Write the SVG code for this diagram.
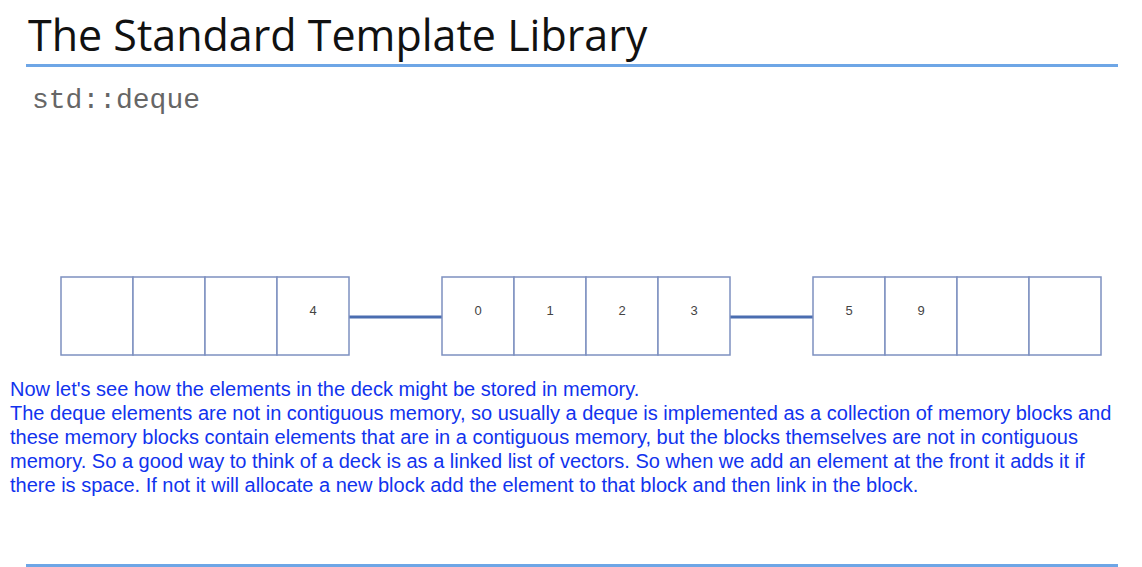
<svg xmlns="http://www.w3.org/2000/svg" width="1142" height="567" viewBox="0 0 1142 567">
  <style>
    .title { font-family: "Open Sans", "Noto Sans", sans-serif; font-size: 43px; fill: #111; }
    .code { font-family: "Liberation Mono", monospace; font-size: 28px; fill: #666; }
    .cell { fill: #fff; stroke: #7d90c0; stroke-width: 1.5; }
    .num { font-family: "Liberation Sans", Arial, sans-serif; font-size: 13px; fill: #444; text-anchor: middle; }
    .link { stroke: #4a6db0; stroke-width: 3; }
    .rule { stroke: #6ea6e6; stroke-width: 3; }
    .body { font-family: "Liberation Sans", Arial, sans-serif; font-size: 20px; fill: #1133ee; }
  </style>

  <text class="title" x="28" y="51">The Standard Template Library</text>
  <line class="rule" x1="26" y1="65.5" x2="1118" y2="65.5"/>
  <text class="code" x="32" y="108">std::deque</text>

  <!-- links between memory blocks -->
  <g id="connectors">
    <line class="link" x1="349" y1="317" x2="442" y2="317"/>
    <line class="link" x1="730" y1="317" x2="813" y2="317"/>
  </g>

  <!-- block A: front block, last slot holds 4 -->
  <g id="block-a">
    <rect class="cell" x="61" y="277" width="72" height="78"/>
    <rect class="cell" x="133" y="277" width="72" height="78"/>
    <rect class="cell" x="205" y="277" width="72" height="78"/>
    <rect class="cell" x="277" y="277" width="72" height="78"/>
    <text class="num" x="313" y="315">4</text>
  </g>

  <!-- block B: 0 1 2 3 -->
  <g id="block-b">
    <rect class="cell" x="442" y="277" width="72" height="78"/>
    <rect class="cell" x="514" y="277" width="72" height="78"/>
    <rect class="cell" x="586" y="277" width="72" height="78"/>
    <rect class="cell" x="658" y="277" width="72" height="78"/>
    <text class="num" x="478" y="315">0</text>
    <text class="num" x="550" y="315">1</text>
    <text class="num" x="622" y="315">2</text>
    <text class="num" x="694" y="315">3</text>
  </g>

  <!-- block C: back block, 5 9 -->
  <g id="block-c">
    <rect class="cell" x="813" y="277" width="72" height="78"/>
    <rect class="cell" x="885" y="277" width="72" height="78"/>
    <rect class="cell" x="957" y="277" width="72" height="78"/>
    <rect class="cell" x="1029" y="277" width="72" height="78"/>
    <text class="num" x="849" y="315">5</text>
    <text class="num" x="921" y="315">9</text>
  </g>

  <text class="body" x="10" y="396">Now let's see how the elements in the deck might be stored in memory.</text>
  <text class="body" x="10" y="420">The deque elements are not in contiguous memory, so usually a deque is implemented as a collection of memory blocks and</text>
  <text class="body" x="10" y="444">these memory blocks contain elements that are in a contiguous memory, but the blocks themselves are not in contiguous</text>
  <text class="body" x="10" y="468">memory. So a good way to think of a deck is as a linked list of vectors. So when we add an element at the front it adds it if</text>
  <text class="body" x="10" y="492">there is space. If not it will allocate a new block add the element to that block and then link in the block.</text>

  <line class="rule" x1="26" y1="565.5" x2="1118" y2="565.5" stroke-width="2"/>
</svg>
